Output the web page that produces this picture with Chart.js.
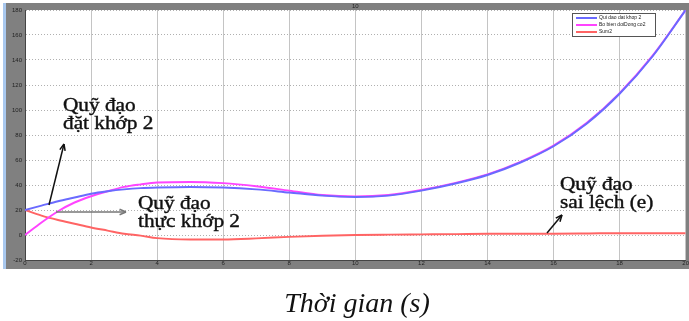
<!DOCTYPE html>
<html>
<head>
<meta charset="utf-8">
<script src="https://cdn.jsdelivr.net/npm/chart.js@4.4.0/dist/chart.umd.min.js"></script>
<style>
  html, body { margin: 0; padding: 0; background: #fff; }
  #wrap { width: 689px; height: 321px; }
</style>
</head>
<body>
<div id="wrap"><canvas id="chart" width="689" height="321"></canvas></div>
<script>
// time (s)
const times = [0, 0.5, 1, 1.5, 2, 2.5, 3, 3.5, 4, 5, 6, 7, 8, 9, 10, 11, 12, 13, 14, 15, 16, 17, 18, 19, 20];
// Qui dao dat khop 2 (desired)
const desired = [20, 23.5, 27, 30, 33, 35, 36.5, 37.5, 38, 38.5, 38, 36.5, 34, 31.5, 30.5, 31.5, 35.5, 41, 48, 58, 71, 89, 113, 143, 180];
// Bo bien doiDong co2 (actual)
const actual = [0, 10, 19, 26, 31, 35, 38.5, 40.5, 42, 42.5, 41.5, 39, 35.5, 32, 30.8, 32, 36, 41.5, 48.5, 58.5, 71.5, 89.5, 113.5, 143.5, 180];
// Sum2 (error)
const error = [20, 15.5, 12, 9, 6, 3.5, 1, -0.5, -2.5, -3.5, -3.5, -2.7, -1.5, -0.6, 0, 0.3, 0.5, 0.7, 1, 1, 1, 1.2, 1.5, 1.5, 1.5];

const seriesNames = ['Qui dao dat khop 2', 'Bo bien doiDong co2', 'Sum2'];
const seriesColors = ['#6a6aff', '#ff44ff', '#ff6464'];

const toPoints = (vals) => vals.map((v, i) => ({ x: times[i], y: v }));

// grey matlab-like frame + white axes box
const frame = {
  id: 'frame',
  beforeDraw(chart) {
    const ctx = chart.ctx;
    const a = chart.chartArea;
    ctx.save();
    ctx.fillStyle = '#ffffff';
    ctx.fillRect(0, 0, chart.width, chart.height);
    ctx.fillStyle = '#808080';
    ctx.fillRect(6, 3, chart.width - 6, 266);
    ctx.fillStyle = '#a9c8ee';
    ctx.fillRect(3, 3, 3, 266);
    ctx.fillStyle = '#ffffff';
    ctx.fillRect(a.left, a.top, a.right - a.left, a.bottom - a.top);
    ctx.fillStyle = '#222';
    ctx.font = '6px Arial';
    ctx.textAlign = 'center';
    ctx.fillText('10', (a.left + a.right) / 2, 8);
    ctx.restore();
  }
};

function arrow(ctx, x1, y1, x2, y2, color) {
  const ang = Math.atan2(y2 - y1, x2 - x1);
  ctx.strokeStyle = color;
  ctx.lineWidth = 1.5;
  ctx.beginPath();
  ctx.moveTo(x1, y1);
  ctx.lineTo(x2, y2);
  ctx.stroke();
  ctx.beginPath();
  ctx.moveTo(x2, y2);
  ctx.lineTo(x2 - 7 * Math.cos(ang - 0.4), y2 - 7 * Math.sin(ang - 0.4));
  ctx.moveTo(x2, y2);
  ctx.lineTo(x2 - 7 * Math.cos(ang + 0.4), y2 - 7 * Math.sin(ang + 0.4));
  ctx.stroke();
}

function label(ctx, lines, x, y) {
  ctx.save();
  ctx.translate(x, y);
  ctx.scale(1.12, 1);
  ctx.fillStyle = '#111';
  ctx.strokeStyle = '#111';
  ctx.lineWidth = 0.4;
  ctx.font = '19px "Liberation Serif", serif';
  ctx.textAlign = 'left';
  ctx.textBaseline = 'alphabetic';
  lines.forEach((t, i) => {
    ctx.fillText(t, 0, i * 18);
    ctx.strokeText(t, 0, i * 18);
  });
  ctx.restore();
}

const notes = {
  id: 'notes',
  afterDraw(chart) {
    const ctx = chart.ctx;
    ctx.save();
    // legend box
    ctx.fillStyle = '#fff';
    ctx.fillRect(572, 13, 83, 23);
    ctx.strokeStyle = '#555';
    ctx.lineWidth = 1;
    ctx.strokeRect(572.5, 13.5, 83, 23);
    ctx.font = '5px Arial';
    ctx.textBaseline = 'middle';
    seriesNames.forEach((n, i) => {
      const y = 18 + i * 7;
      ctx.strokeStyle = seriesColors[i];
      ctx.lineWidth = 2;
      ctx.beginPath();
      ctx.moveTo(576, y);
      ctx.lineTo(597, y);
      ctx.stroke();
      ctx.fillStyle = '#222';
      ctx.fillText(n, 599, y);
    });

    // annotations
    label(ctx, ['Quỹ đạo', 'đặt khớp 2'], 63, 111);
    label(ctx, ['Quỹ đạo', 'thực khớp 2'], 138, 209);
    label(ctx, ['Quỹ đạo', 'sai lệch (e)'], 560, 190);
    arrow(ctx, 49, 205, 64, 144, '#111');
    arrow(ctx, 56, 212, 126, 212, '#777');
    arrow(ctx, 547, 233, 562, 215, '#111');

    // x axis title
    ctx.fillStyle = '#111';
    ctx.font = 'italic 28px "Liberation Serif", serif';
    ctx.textAlign = 'center';
    ctx.textBaseline = 'alphabetic';
    ctx.fillText('Thời gian (s)', 357, 312);
    ctx.restore();
  }
};

new Chart(document.getElementById('chart'), {
  type: 'line',
  data: {
    datasets: [
      {
        label: seriesNames[0],
        data: toPoints(desired),
        borderColor: seriesColors[0],
        borderWidth: 2,
        pointRadius: 0,
        cubicInterpolationMode: 'monotone'
      },
      {
        label: seriesNames[1],
        data: toPoints(actual),
        borderColor: seriesColors[1],
        borderWidth: 2,
        pointRadius: 0,
        cubicInterpolationMode: 'monotone'
      },
      {
        label: seriesNames[2],
        data: toPoints(error),
        borderColor: seriesColors[2],
        borderWidth: 2,
        pointRadius: 0,
        cubicInterpolationMode: 'monotone'
      }
    ]
  },
  options: {
    responsive: false,
    animation: false,
    layout: { padding: { left: 0, top: 10, right: 3, bottom: 52 } },
    plugins: {
      legend: { display: false },
      tooltip: { enabled: false }
    },
    scales: {
      x: {
        type: 'linear',
        min: 0,
        max: 20,
        afterFit: (scale) => { scale.height = 9; },
        ticks: {
          stepSize: 2,
          autoSkip: false,
          maxRotation: 0,
          padding: 0,
          color: '#222',
          font: { size: 6, family: 'Arial' }
        },
        grid: { color: '#c4c4c4', drawTicks: false },
        border: { color: '#444' }
      },
      y: {
        min: -20,
        max: 180,
        afterFit: (scale) => { scale.width = 25; },
        ticks: {
          stepSize: 20,
          autoSkip: false,
          padding: 3,
          color: '#222',
          font: { size: 6, family: 'Arial' }
        },
        grid: { color: '#b0b0b0', drawTicks: false },
        border: { color: '#444', dash: [1, 2] }
      }
    }
  },
  plugins: [frame, notes]
});
</script>
</body>
</html>
